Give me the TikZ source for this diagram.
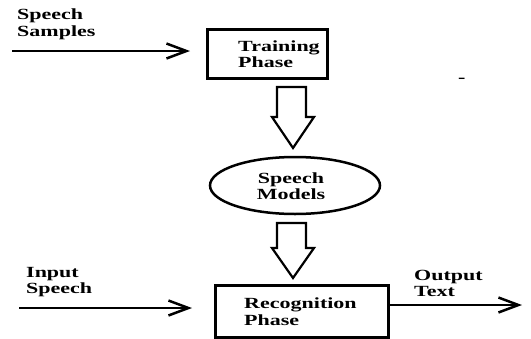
\documentclass[tikz,border=0pt]{standalone}
\usepackage{fontspec}
\setmainfont{Liberation Serif}[FakeStretch=1.42]
\usetikzlibrary{arrows.meta,shapes.geometric}
\begin{document}
\begin{tikzpicture}[x=1pt,y=-1pt,
  lbl/.style={font=\fontsize{15.5}{17}\selectfont\bfseries, anchor=base west, inner sep=0},
  clbl/.style={lbl, anchor=base},
  boxx/.style={draw, line width=3pt, rectangle, inner sep=0},
  flow/.style={line width=2.5pt, -{Straight Barb[length=20pt,width=15pt,line width=2.5pt]}},
  blockarrow/.style={draw, line width=2.2pt, line join=miter}]
\useasboundingbox (0,0) rectangle (531,338);
% boxes
\node[boxx, minimum width=120pt, minimum height=49pt] (train) at (267,53.5) {};
\node[boxx, minimum width=173pt, minimum height=52pt] (recog) at (301.5,311) {};
\node[draw, ellipse, line width=2.5pt, minimum width=170pt, minimum height=57pt, inner sep=0] (models) at (295,185.5) {};
% texts
\node[lbl] (ss1) at (17,19) {Speech};
\node[lbl] (ss2) at (17,36) {Samples};
\node[lbl] (tp1) at (238,51) {Training};
\node[lbl] (tp2) at (238,67) {Phase};
\node[clbl] (sm1) at (291,183) {Speech};
\node[clbl] (sm2) at (291,199) {Models};
\node[lbl] (rp1) at (244,308) {Recognition};
\node[lbl] (rp2) at (244,325) {Phase};
\node[lbl] (is1) at (26,277) {Input};
\node[lbl] (is2) at (26,293) {Speech};
\node[lbl] (ot1) at (414,280) {Output};
\node[lbl] (ot2) at (414,296) {Text};
\node[lbl] (dash) at (458,82) {-};
% flow arrows
\coordinate (ssA) at (12,51);
\coordinate (ssB) at (190,51);
\draw[flow] (ssA) -- (ssB);
\coordinate (isA) at (19,308);
\coordinate (isB) at (192,308);
\draw[flow] (isA) -- (isB);
\coordinate (otA) at (390,305);
\coordinate (otB) at (522,305);
\draw[flow] (otA) -- (otB);
% block arrows
\draw[blockarrow] (277,87) -- (277,117) -- (272,117) -- (293,148) -- (314,117) -- (306,117) -- (306,87) -- cycle;
\draw[blockarrow] (277,223) -- (277,248) -- (272,248) -- (293,278) -- (314,248) -- (306,248) -- (306,223) -- cycle;
\end{tikzpicture}
\end{document}
